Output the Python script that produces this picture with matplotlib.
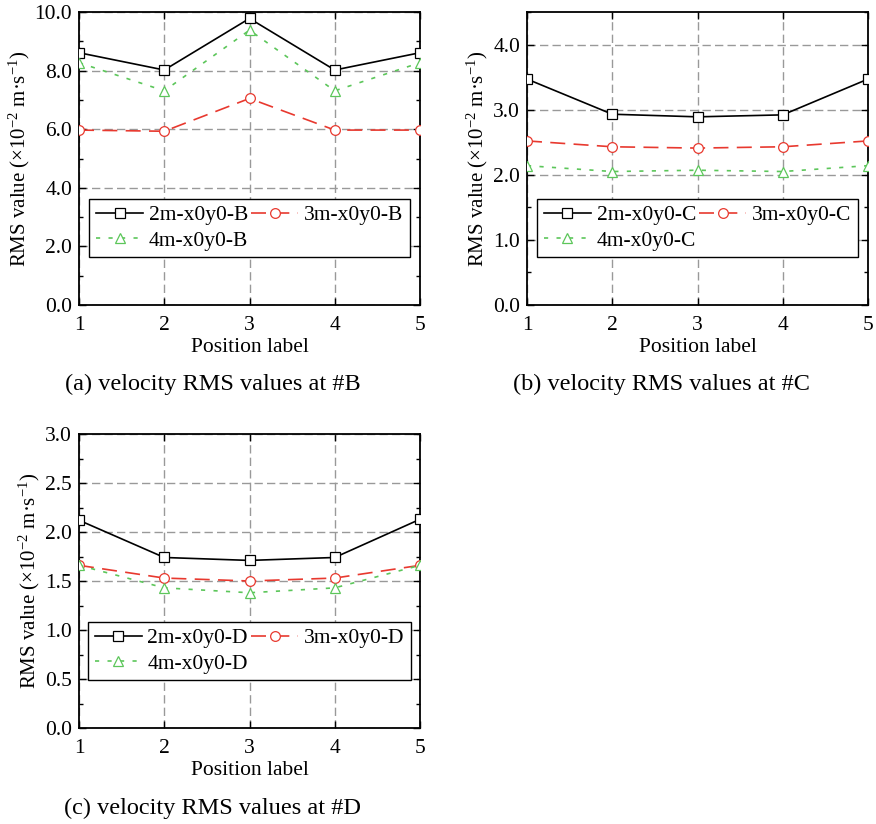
import matplotlib
matplotlib.use("Agg")
import matplotlib.pyplot as plt
from matplotlib.ticker import MultipleLocator, FormatStrFormatter

plt.rcParams["font.family"] = ["Liberation Serif", "DejaVu Serif"]
plt.rcParams["mathtext.fontset"] = "custom"
plt.rcParams["mathtext.rm"] = "Liberation Serif"
plt.rcParams["mathtext.default"] = "regular"

positions = [1, 2, 3, 4, 5]

# RMS values at #B
b_2m = [8.61, 8.02, 9.78, 8.02, 8.61]
b_3m = [5.97, 5.93, 7.05, 5.97, 5.97]
b_4m = [8.27, 7.31, 9.38, 7.31, 8.27]

# RMS values at #C
c_2m = [3.47, 2.93, 2.89, 2.92, 3.47]
c_3m = [2.52, 2.43, 2.41, 2.43, 2.52]
c_4m = [2.14, 2.05, 2.07, 2.05, 2.14]

# RMS values at #D
d_2m = [2.12, 1.74, 1.71, 1.74, 2.13]
d_3m = [1.66, 1.53, 1.50, 1.53, 1.66]
d_4m = [1.66, 1.43, 1.38, 1.43, 1.66]

panels = [
    ("B", b_2m, b_3m, b_4m, 10.0, 2.0, "(a) velocity RMS values at #B"),
    ("C", c_2m, c_3m, c_4m, 4.5, 1.0, "(b) velocity RMS values at #C"),
    ("D", d_2m, d_3m, d_4m, 3.0, 0.5, "(c) velocity RMS values at #D"),
]

W, H = 876, 824
fig = plt.figure(figsize=(W / 100, H / 100), dpi=100)

# axes boxes in pixels: left, top, right, bottom
boxes = [(79, 12, 420, 305), (527, 12, 868, 305), (79, 434, 420, 728)]
caption_xy = [(213, 384), (661, 384), (213, 808)]

red = "#e8392f"
green = "#5cc65a"
fs = 15.5

for (tag, s2, s3, s4, ymax, ystep, caption), (l, t, r, b), (cx, cy) in zip(panels, boxes, caption_xy):
    ax = fig.add_axes([l / W, 1 - b / H, (r - l) / W, (b - t) / H])
    h2, = ax.plot(positions, s2, color="black", lw=1.2, marker="s", ms=6.5,
                  mfc="white", mec="black", mew=0.9, label="2m-x0y0-" + tag, zorder=5)
    h3, = ax.plot(positions, s3, color=red, lw=1.2, ls=(0, (9, 5)), marker="o", ms=7,
                  mfc="white", mec=red, mew=0.9, label="3m-x0y0-" + tag, zorder=5)
    h4, = ax.plot(positions, s4, color=green, lw=1.2, ls=(0, (2.5, 5)), marker="^", ms=7,
                  mfc="white", mec=green, mew=0.9, label="4m-x0y0-" + tag, zorder=5)

    ax.set_xlim(1, 5)
    ax.set_ylim(0, ymax)
    ax.xaxis.set_major_locator(MultipleLocator(1))
    ax.yaxis.set_major_locator(MultipleLocator(ystep))
    ax.yaxis.set_minor_locator(MultipleLocator(ystep / 2))
    ax.yaxis.set_major_formatter(FormatStrFormatter("%.1f"))
    ax.tick_params(which="both", direction="in", top=True, right=True,
                   labelsize=fs, width=1.0)
    ax.tick_params(axis="x", pad=8)
    ax.tick_params(axis="y", pad=5)
    ax.tick_params(which="major", length=5)
    ax.tick_params(which="minor", length=3)
    ax.grid(True, which="major", color="#999999", ls=(0, (6, 3)), lw=1.0)
    for sp in ax.spines.values():
        sp.set_linewidth(1.3)

    ax.set_xlabel("Position label", fontsize=fs, labelpad=2)
    ax.set_ylabel("RMS value (×10$^{-2}$ m·s$^{-1}$)", fontsize=15, labelpad=2)

    # two columns: 2m and 4m on the left, 3m on the right
    leg = ax.legend([h2, h4, h3], [h2.get_label(), h4.get_label(), h3.get_label()],
                    ncol=2, loc="upper center", bbox_to_anchor=(0.5, 0.362),
                    fontsize=fs, frameon=True, fancybox=False, edgecolor="black",
                    handlelength=2.2, handletextpad=0.25, columnspacing=0.15,
                    borderpad=0.3, labelspacing=0.25, borderaxespad=0)
    leg.get_frame().set_linewidth(1.0)
    leg.get_frame().set_alpha(1)
    leg.set_zorder(10)

    fig.text(cx / W, 1 - cy / H, caption, fontsize=17.5, ha="center", va="center")

fig.savefig("out.png", dpi=100)
